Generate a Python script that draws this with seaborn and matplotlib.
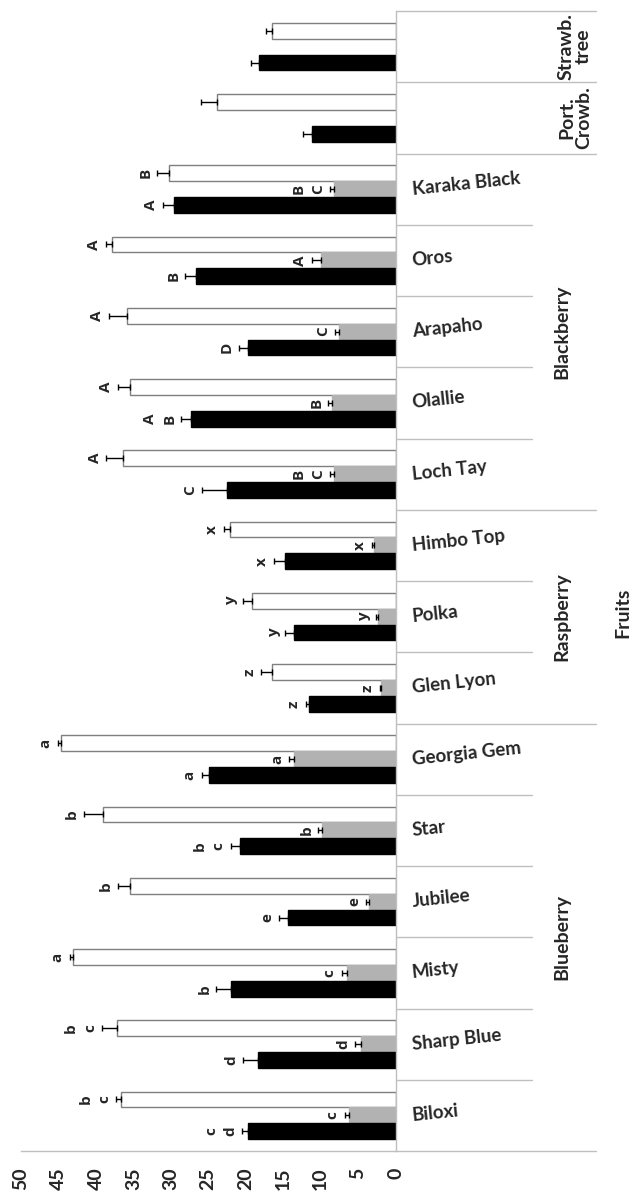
import matplotlib
matplotlib.use("Agg")
import matplotlib.pyplot as plt
import seaborn as sns
import pandas as pd
import numpy as np

# ---- data (listed from the bottom row upwards) ----
cultivars = ["Biloxi", "Sharp Blue", "Misty", "Jubilee", "Star", "Georgia Gem",
             "Glen Lyon", "Polka", "Himbo Top",
             "Loch Tay", "Olallie", "Arapaho", "Oros", "Karaka Black",
             "Port. Crowb.", "Strawb. tree"]
cultivar_labels = ["Biloxi", "Sharp Blue", "Misty", "Jubilee", "Star", "Georgia Gem",
                   "Glen Lyon", "Polka", "Himbo Top",
                   "Loch Tay", "Olallie", "Arapaho", "Oros", "Karaka Black",
                   "", ""]

black_vals = [19.7, 18.3, 22.0, 14.3, 20.7, 24.9, 11.6, 13.5, 14.8,
              22.5, 27.3, 19.7, 26.7, 29.6, 11.2, 18.2]
black_err = [0.8, 2.0, 1.9, 1.2, 1.3, 1.0, 0.4, 1.2, 1.4,
             3.4, 1.3, 1.2, 1.4, 1.5, 1.1, 1.1]
grey_vals = [6.2, 4.6, 6.5, 3.5, 9.8, 13.5, 1.9, 2.3, 2.9,
             8.2, 8.5, 7.5, 10.0, 8.2, 0.0, 0.0]
grey_err = [0.6, 0.8, 0.7, 0.4, 0.5, 0.7, 0.2, 0.3, 0.2,
            0.6, 0.5, 0.6, 1.1, 0.6, 0.0, 0.0]
white_vals = [36.6, 37.2, 43.1, 35.5, 39.0, 44.6, 16.5, 19.1, 22.1,
              36.4, 35.4, 35.8, 37.8, 30.3, 23.8, 16.5]
white_err = [0.7, 2.0, 0.4, 1.6, 2.6, 0.5, 1.4, 1.3, 0.8,
             2.2, 1.7, 2.5, 0.9, 1.5, 2.2, 0.8]

black_letters = ["c\nd", "d", "b", "e", "b\nc", "a", "z", "y", "x",
                 "C", "A\nB", "D", "B", "A", "", ""]
grey_letters = ["c", "d", "c", "e", "b", "a", "z", "y", "x",
                "B\nC", "B", "C", "A", "B\nC", "", ""]
white_letters = ["b\nc", "b\nc", "a", "b", "b", "a", "z", "y", "x",
                 "A", "A", "A", "A", "B", "", ""]

# fruit groups: (label, first index, last index)
fruit_groups = [("Blueberry", 0, 5), ("Raspberry", 6, 8), ("Blackberry", 9, 13),
                ("Port.\nCrowb.", 14, 14), ("Strawb.\ntree", 15, 15)]

value_ticks = [0, 5, 10, 15, 20, 25, 30, 35, 40, 45, 50]

series_names = ["open", "grey", "solid"]
series_colors = {"open": "#ffffff", "grey": "#b2b2b2", "solid": "#000000"}

rows = []
for i, c in enumerate(cultivars):
    rows.append({"cultivar": c, "series": "open", "value": white_vals[i]})
    rows.append({"cultivar": c, "series": "grey", "value": grey_vals[i]})
    rows.append({"cultivar": c, "series": "solid", "value": black_vals[i]})
df = pd.DataFrame(rows)

sns.set_style("white")
plt.rcParams["font.family"] = ["Lato", "DejaVu Sans"]
plt.rcParams["font.weight"] = "bold"

W, H = 633, 1201
fig = plt.figure(figsize=(W / 100, H / 100), dpi=100)
x0_px, x1_px = 21, 395.5
y_top_px, y_bot_px = 11, 1151
ax = fig.add_axes([x0_px / W, (H - y_bot_px) / H,
                   (x1_px - x0_px) / W, (y_bot_px - y_top_px) / H])

order = cultivars[::-1]          # top row first
n = len(order)
sns.barplot(data=df, x="value", y="cultivar", hue="series", order=order,
            hue_order=series_names, palette=series_colors, orient="h",
            width=0.67, gap=0, errorbar=None, saturation=1, legend=False, ax=ax)

ax.set_xlim(50, 0)
ax.set_ylim(n - 0.5, -0.5)

edge_cols = {"open": "#7f7f7f", "grey": "#b2b2b2", "solid": "#000000"}
errs = {"open": white_err, "grey": grey_err, "solid": black_err}
vals = {"open": white_vals, "grey": grey_vals, "solid": black_vals}
letters = {"open": white_letters, "grey": grey_letters, "solid": black_letters}

line_col = "#bfbfbf"
for cont, s in zip(ax.containers, series_names):
    for p in cont.patches:
        p.set_edgecolor(edge_cols[s])
        p.set_linewidth(1.0)
    ys = np.array([p.get_y() + p.get_height() / 2 for p in cont.patches])
    v = np.array(vals[s][::-1])
    e = np.array(errs[s][::-1])
    lab = letters[s][::-1]
    m = e > 0
    ax.errorbar(v[m], ys[m], xerr=[np.zeros(m.sum()), e[m]], fmt="none",
                ecolor="black", elinewidth=1.0, capsize=2.0, capthick=1.0)
    for yy, vv, ee, t in zip(ys, v, e, lab):
        if t:
            ax.annotate(t, (vv + ee, yy), xytext=(-3.5, 0), textcoords="offset points",
                        ha="right", va="center", rotation=90, fontsize=11,
                        fontweight="bold", family=["Open Sans", "DejaVu Sans"],
                        linespacing=1.45, multialignment="center")

# axes styling
ax.set_xlabel("")
ax.set_ylabel("")
ax.set_yticks([])
ax.set_xticks(value_ticks)
ax.set_xticklabels([str(t) for t in value_ticks], rotation=90, fontsize=14,
                   fontweight="bold")
ax.tick_params(axis="x", direction="out", length=8, width=1, color=line_col, pad=4)
for side in ["top", "left"]:
    ax.spines[side].set_visible(False)
for side in ["right", "bottom"]:
    ax.spines[side].set_color(line_col)
    ax.spines[side].set_linewidth(1.0)

# category table at the right of the bars
yt = ax.get_yaxis_transform()
px = lambda x: (x - x0_px) / (x1_px - x0_px)
x_inner, x_outer = px(532), px(596)

ax.plot([1, x_outer], [n - 0.5, n - 0.5], transform=yt, color=line_col,
        lw=1.0, clip_on=False)
group_edges = set()
for _, a, b in fruit_groups:
    group_edges.add(a)
    group_edges.add(b + 1)
for k in range(1, len(cultivars) + 1):
    y = n - 0.5 - k      # boundary above bottom-up index k-1
    x_end = x_outer if k in group_edges else x_inner
    ax.plot([1, x_end], [y, y], transform=yt, color=line_col, lw=1.0, clip_on=False)

for i, lab in enumerate(cultivar_labels):
    if lab:
        ax.text(px(412), n - 1 - i, lab, transform=yt, ha="left", va="center",
                rotation=6, rotation_mode="anchor", fontsize=13.5,
                fontweight="bold", clip_on=False)

for lab, a, b in fruit_groups:
    yc = n - 1 - (a + b) / 2
    xg = px(575) if "\n" in lab else px(562)
    ax.text(xg, yc, lab, transform=yt, ha="center", va="center", rotation=90,
            fontsize=14, fontweight="bold", linespacing=1.0, clip_on=False)

fig.text(623 / W, 1 - 613 / H, "Fruits", ha="center", va="center", rotation=90,
         fontsize=14, fontweight="bold")

fig.savefig("out.png", dpi=100, facecolor="white")
